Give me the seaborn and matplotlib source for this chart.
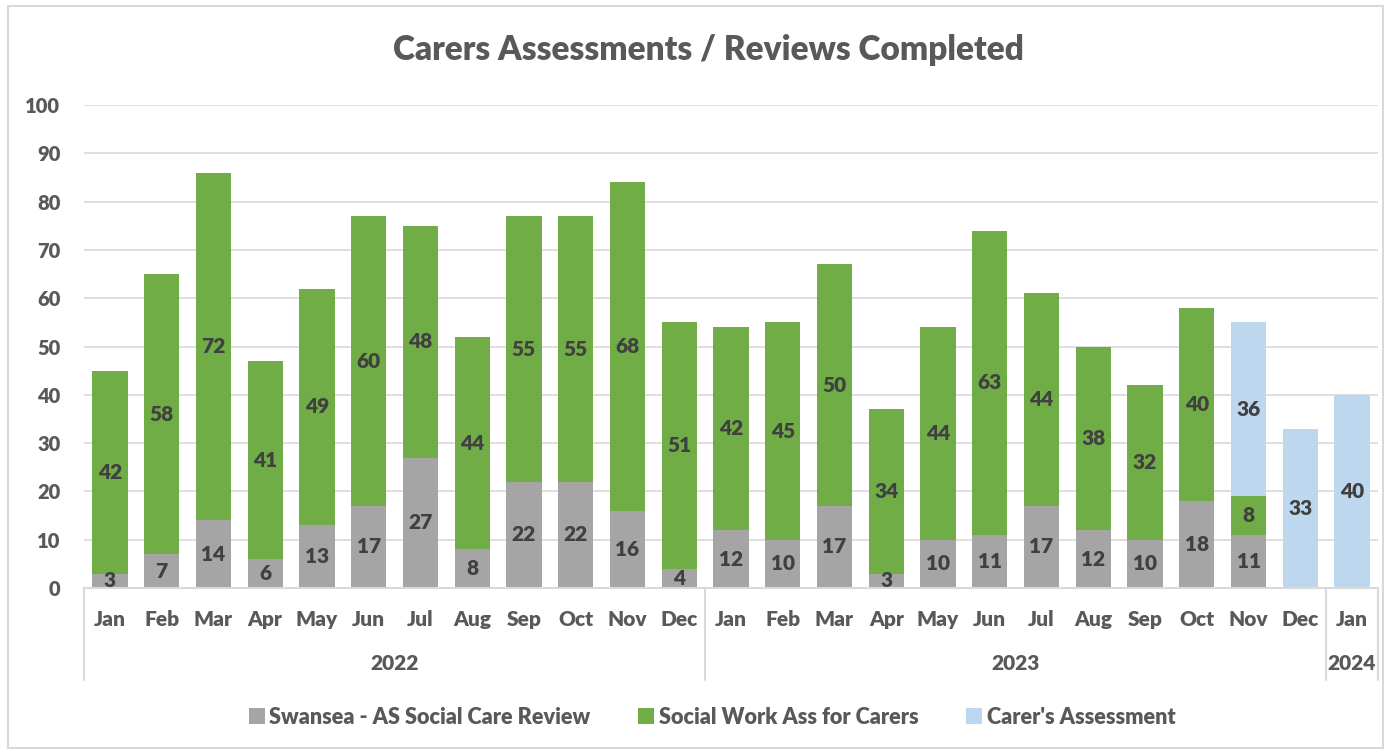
import matplotlib.pyplot as plt
import matplotlib.transforms as mtransforms
from matplotlib.patches import Patch, Rectangle
import pandas as pd
import seaborn as sns

# Months on the axis and the year each belongs to
months = ["Jan", "Feb", "Mar", "Apr", "May", "Jun", "Jul", "Aug", "Sep", "Oct", "Nov", "Dec",
          "Jan", "Feb", "Mar", "Apr", "May", "Jun", "Jul", "Aug", "Sep", "Oct", "Nov", "Dec",
          "Jan"]
years = ["2022"] * 12 + ["2023"] * 12 + ["2024"]

# Series values
swansea_review = [3, 7, 14, 6, 13, 17, 27, 8, 22, 22, 16, 4,
                  12, 10, 17, 3, 10, 11, 17, 12, 10, 18, 11, 0,
                  0]
social_work = [42, 58, 72, 41, 49, 60, 48, 44, 55, 55, 68, 51,
               42, 45, 50, 34, 44, 63, 44, 38, 32, 40, 8, 0,
               0]
carers_assessment = [0, 0, 0, 0, 0, 0, 0, 0, 0, 0, 0, 0,
                     0, 0, 0, 0, 0, 0, 0, 0, 0, 0, 36, 33,
                     40]

series_names = ["Swansea - AS Social Care Review", "Social Work Ass for Carers", "Carer's Assessment"]
colours = ["#A5A5A5", "#70AD47", "#BDD7EE"]

TEXT = "#595959"
LABEL = "#404040"
GRID = "#D9D9D9"
FONT = "Lato"
W = 800      # font weight
FS = 14.5    # base font size


def main():
    sns.set_theme(style="white")
    plt.rcParams["font.family"] = [FONT, "DejaVu Sans"]
    plt.rcParams["font.weight"] = W

    df = pd.DataFrame({
        "key": [f"{y}-{m}" for y, m in zip(years, months)],
        "gray": swansea_review,
        "green": social_work,
        "blue": carers_assessment,
    })
    df["lvl1"] = df["gray"]
    df["lvl2"] = df["gray"] + df["green"]
    df["lvl3"] = df["lvl2"] + df["blue"]

    fig = plt.figure(figsize=(13.89, 7.51), dpi=100)
    ax = fig.add_axes([0.0605, 0.217, 0.9315, 0.643])

    # gridlines behind bars
    for v in range(10, 101, 10):
        ax.axhline(v, color=GRID, lw=1.2, zorder=0)

    # stacked bars: draw cumulative totals, largest first
    bw = 0.68
    for col, c in zip(["lvl3", "lvl2", "lvl1"], colours[::-1]):
        sns.barplot(data=df, x="key", y=col, color=c, width=bw, saturation=1,
                    ax=ax, zorder=2, linewidth=0, errorbar=None)

    # data labels centred in each segment
    for i, row in df.iterrows():
        base = 0
        for col in ["gray", "green", "blue"]:
            v = row[col]
            if v > 0:
                ax.text(i, base + v / 2, str(v), ha="center", va="center",
                        fontsize=FS + 0.5, fontweight=W, color=LABEL, zorder=5)
            base += v

    ax.set_ylim(0, 100)
    ax.set_xlim(-0.5, len(months) - 0.5)
    ax.set_yticks(range(0, 101, 10))
    ax.set_yticklabels([str(v) for v in range(0, 101, 10)], fontsize=FS,
                       fontweight=W, color=TEXT)
    ax.tick_params(axis="y", length=0, pad=17)
    ax.set_xticks([])
    ax.set_xlabel("")
    ax.set_ylabel("")
    for s in ax.spines.values():
        s.set_visible(False)
    ax.axhline(0, color=GRID, lw=1.5, zorder=3, clip_on=False)

    # two-level category axis
    trans = mtransforms.blended_transform_factory(ax.transData, ax.transAxes)
    for i, m in enumerate(months):
        ax.text(i, -0.066, m, transform=trans, ha="center", va="center",
                fontsize=FS + 0.5, fontweight=W, color=TEXT)
    for xb in [-0.5, 11.5, 23.5, 24.5]:
        ax.plot([xb, xb], [0, -0.19], transform=trans, color=GRID, lw=1.5, clip_on=False)
    for y, xc in [("2022", 5.5), ("2023", 17.5), ("2024", 24)]:
        ax.text(xc, -0.157, y, transform=trans, ha="center", va="center",
                fontsize=FS + 0.5, fontweight=W, color=TEXT)

    fig.text(0.51, 0.933, "Carers Assessments / Reviews Completed", ha="center", va="center",
             fontsize=24, fontweight=W, color=TEXT)

    handles = [Patch(facecolor=c, edgecolor="none") for c in colours]
    fig.legend(handles, series_names, loc="center", bbox_to_anchor=(0.5126, 0.045), ncol=3,
               frameon=False, handlelength=0.75, handleheight=0.75, handletextpad=0.2,
               columnspacing=2.2, prop={"family": FONT, "weight": W, "size": 15.6},
               labelcolor=TEXT)

    # chart border
    fig.patches.append(Rectangle((0.006, 0.004), 0.99, 0.988, transform=fig.transFigure,
                                 fill=False, edgecolor=GRID, lw=1.5))

    fig.savefig("out.png", dpi=100)


if __name__ == "__main__":
    main()
